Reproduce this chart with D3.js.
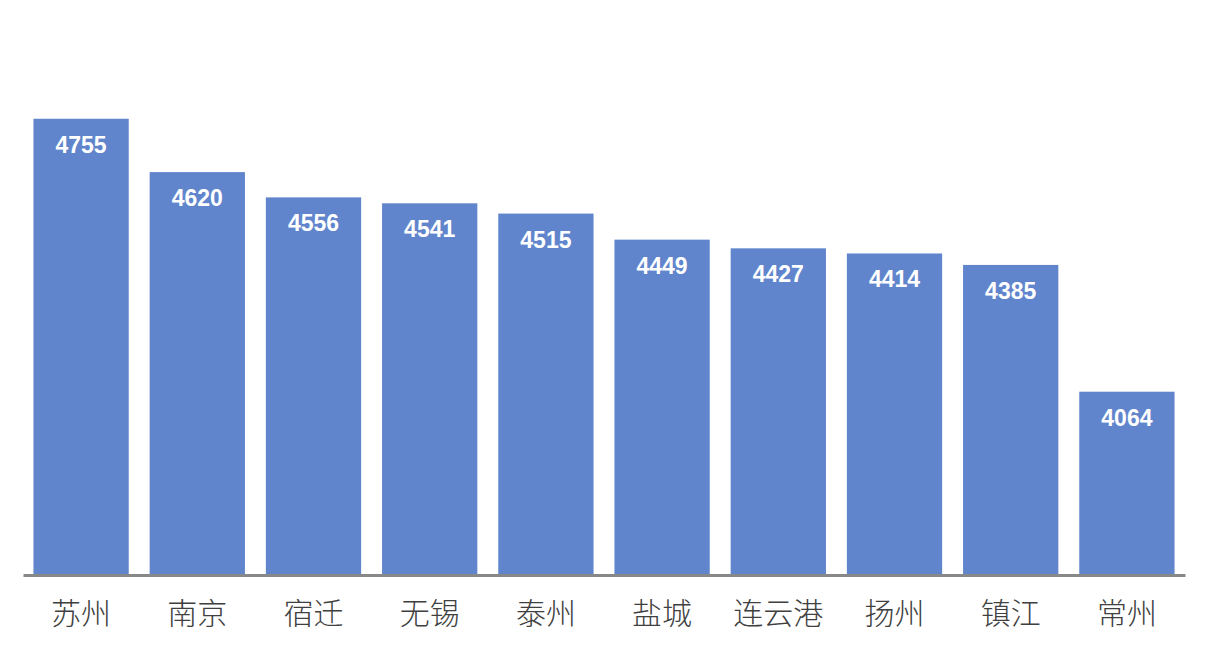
<!DOCTYPE html>
<html lang="zh">
<head>
<meta charset="UTF-8" />
<title>城市柱状图</title>
<script src="https://cdn.jsdelivr.net/npm/d3@7"></script>
<style>
  body { margin: 0; background: #fff; }
  .cat text { font-family: "Noto Sans CJK SC", sans-serif; font-size: 30px; font-weight: 300; fill: #404040; }
  .val { font-family: "Liberation Sans", Arial, sans-serif; font-size: 23px; font-weight: bold; fill: #fff; }
</style>
</head>
<body>
<div id="chart"></div>
<script>
var cities = ["苏州", "南京", "宿迁", "无锡", "泰州", "盐城", "连云港", "扬州", "镇江", "常州"];
var values = [4755, 4620, 4556, 4541, 4515, 4449, 4427, 4414, 4385, 4064];

var width = 1208, height = 653;
var margin = { top: 22, right: 23, bottom: 78, left: 23 };

var svg = d3.select("#chart").append("svg")
  .attr("width", width)
  .attr("height", height);

var x = d3.scaleBand()
  .domain(cities)
  .range([margin.left, width - margin.right])
  .paddingInner(0.18)
  .paddingOuter(0.09);

var y = d3.scaleLinear()
  .domain([3600, 5000])
  .range([height - margin.bottom, margin.top]);

var data = cities.map(function(c, i) { return { city: c, value: values[i] }; });

svg.selectAll("rect.bar")
  .data(data)
  .enter()
  .append("rect")
  .attr("class", "bar")
  .attr("x", function(d) { return x(d.city); })
  .attr("width", x.bandwidth())
  .attr("y", function(d) { return y(d.value); })
  .attr("height", function(d) { return y(3600) - y(d.value); })
  .attr("fill", "#6185cc");

svg.selectAll("text.val")
  .data(data)
  .enter()
  .append("text")
  .attr("class", "val")
  .attr("text-anchor", "middle")
  .attr("x", function(d) { return x(d.city) + x.bandwidth() / 2; })
  .attr("y", function(d) { return y(d.value) + 34; })
  .text(function(d) { return d.value; });

var xAxis = d3.axisBottom(x).tickSize(0).tickPadding(28);

var g = svg.append("g")
  .attr("class", "cat")
  .attr("transform", "translate(0," + y(3600) + ")")
  .call(xAxis);

g.select(".domain")
  .attr("stroke", "#888")
  .attr("stroke-width", 3);
</script>
</body>
</html>
